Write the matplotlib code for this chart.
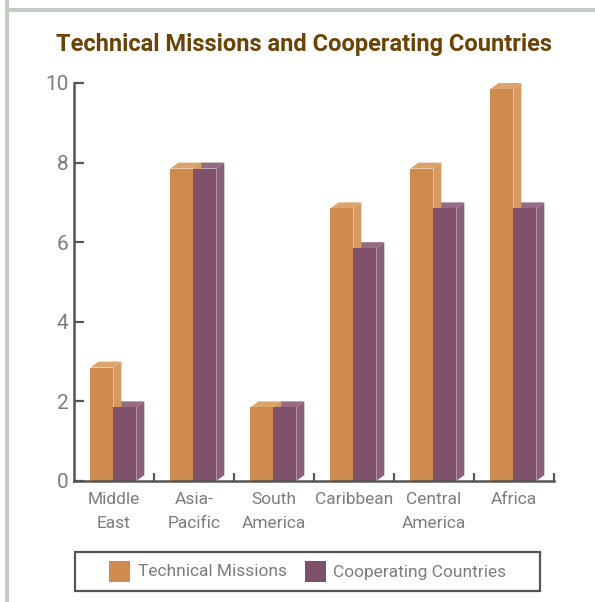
import matplotlib
matplotlib.use("Agg")
import matplotlib.pyplot as plt
from matplotlib.patches import Polygon, Rectangle
from matplotlib.transforms import blended_transform_factory

categories = ["Middle\nEast", "Asia-\nPacific", "South\nAmerica", "Caribbean", "Central\nAmerica", "Africa"]
technical_missions = [3, 8, 2, 7, 8, 10]
cooperating_countries = [2, 8, 2, 6, 7, 7]
series_names = ["Technical Missions", "Cooperating Countries"]
y_ticks = [0, 2, 4, 6, 8, 10]

LABEL_FONT = ["Roboto", "Liberation Sans", "DejaVu Sans"]
TITLE_FONT = ["Roboto", "Liberation Sans", "DejaVu Sans"]
plt.rcParams["font.family"] = LABEL_FONT

W, H = 595, 602
fig = plt.figure(figsize=(W / 100, H / 100), dpi=100)
fig.patch.set_facecolor("white")

def fx(px):
    return px / W

def fy(py):
    return 1 - py / H

# frame border (left and top)
border = "#c3cdc3"
fig.add_artist(Rectangle((fx(5), fy(602)), fx(4), 1, transform=fig.transFigure, color=border, lw=0))
fig.add_artist(Rectangle((fx(5), fy(12)), 1, 4 / H, transform=fig.transFigure, color=border, lw=0))

left, right, top, bottom = 74, 554, 83, 481
ax = fig.add_axes([fx(left), fy(bottom), fx(right - left), (bottom - top) / H])
ax.set_xlim(0, 6)
ax.set_ylim(0, 10)
ax.set_facecolor("none")

col_front = ["#cf8a4d", "#7e5069"]
col_side = ["#d69b62", "#8a6079"]
col_top = ["#dba46d", "#946b82"]

off = 0.205
bw = 0.287
dx = 0.1
dy = 0.15

def bar3d(x0, v, k):
    x1 = x0 + bw
    front = Polygon([(x0, 0), (x1, 0), (x1, v - dy), (x0, v - dy)], closed=True,
                    fc=col_front[k], ec="none", zorder=3)
    side = Polygon([(x1, 0), (x1 + dx, dy), (x1 + dx, v), (x1, v - dy)], closed=True,
                   fc=col_side[k], ec="none", zorder=2)
    topf = Polygon([(x0, v - dy), (x1, v - dy), (x1 + dx, v), (x0 + dx, v)], closed=True,
                   fc=col_top[k], ec="none", zorder=2)
    for p in (side, topf, front):
        ax.add_patch(p)

for i, (a, b) in enumerate(zip(technical_missions, cooperating_countries)):
    bar3d(i + off + bw, b, 1)
    bar3d(i + off, a, 0)

spine_c = "#555555"
txt_c = "#7d7d7d"
for s in ("top", "right"):
    ax.spines[s].set_visible(False)
for s in ("left", "bottom"):
    ax.spines[s].set_color(spine_c)
    ax.spines[s].set_linewidth(1.8)
    ax.spines[s].set_zorder(5)

ax.set_yticks(y_ticks)
ax.set_yticklabels([str(t) for t in y_ticks])
ax.tick_params(axis="y", direction="in", length=7, width=1.6, color=spine_c,
               labelcolor=txt_c, labelsize=15, pad=4)
ax.set_xticks(range(1, 7))
ax.set_xticklabels([])
ax.tick_params(axis="x", direction="in", length=6, width=1.6, color=spine_c)

trans = blended_transform_factory(ax.transData, ax.transAxes)
for i, cat in enumerate(categories):
    ax.text(i + 0.5, -11 / (bottom - top), cat, transform=trans, ha="center", va="top",
            fontsize=12.5, color=txt_c, linespacing=1.75, clip_on=False)

fig.text(fx(304), fy(45), "Technical Missions and Cooperating Countries",
         ha="center", va="center", fontsize=17, fontweight="bold", color="#6b4305",
         family=TITLE_FONT)

# legend box
fig.add_artist(Rectangle((fx(75), fy(591)), fx(465), 39 / H, transform=fig.transFigure,
                         fc="white", ec="#555555", lw=1.6))
items = [(109, 138), (305, 333)]
for k, (sx, tx) in enumerate(items):
    fig.add_artist(Rectangle((fx(sx), fy(582)), fx(21), 21 / H, transform=fig.transFigure,
                             fc=col_front[k], ec="none"))
    fig.text(fx(tx), fy(572), series_names[k], ha="left", va="center",
             fontsize=12.5, color=txt_c)

fig.savefig("out.png", dpi=100)
